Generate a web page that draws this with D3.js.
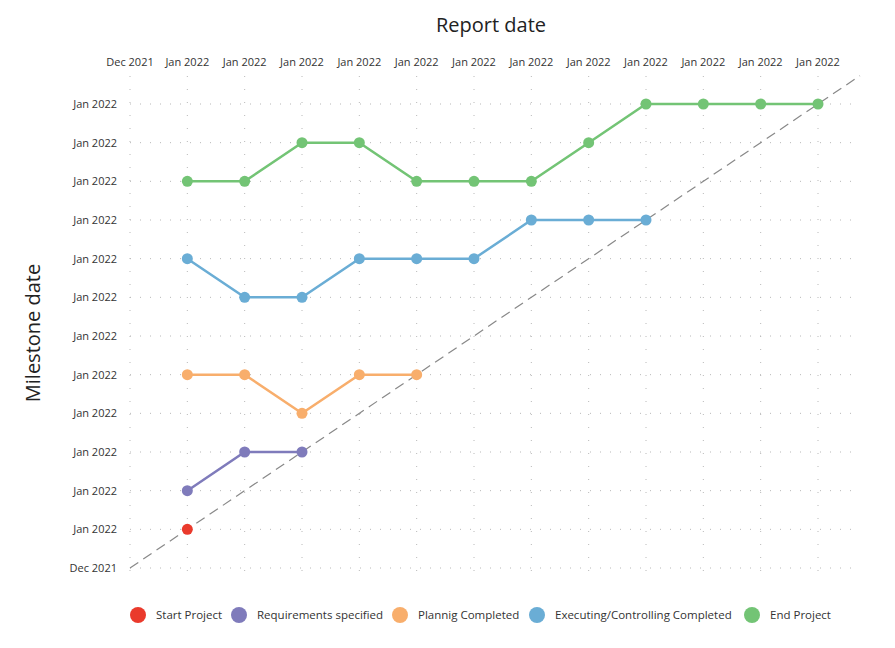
<!DOCTYPE html>
<html>
<head>
<meta charset="utf-8">
<script src="https://cdn.jsdelivr.net/npm/d3@7"></script>
<style>
  body { margin: 0; background: #fff; }
  svg { font-family: 'Open Sans', 'Noto Sans', sans-serif; }
</style>
</head>
<body>
<div id="chart"></div>
<script>
// report dates (x) and milestone dates (y)
var reportDates = ['2021-12-31', '2022-01-01', '2022-01-02', '2022-01-03', '2022-01-04', '2022-01-05',
  '2022-01-06', '2022-01-07', '2022-01-08', '2022-01-09', '2022-01-10', '2022-01-11', '2022-01-12'];

var milestoneNames = ['Start Project', 'Requirements specified', 'Plannig Completed',
  'Executing/Controlling Completed', 'End Project'];
var milestoneColors = ['#ea3a2c', '#7f7bbb', '#f8ae6c', '#6aadd5', '#73c475'];

// milestone date forecast per report date, one array per milestone
var startProject = [['2022-01-01', '2022-01-01']];
var requirements = [['2022-01-01', '2022-01-02'], ['2022-01-02', '2022-01-03'], ['2022-01-03', '2022-01-03']];
var planning = [['2022-01-01', '2022-01-05'], ['2022-01-02', '2022-01-05'], ['2022-01-03', '2022-01-04'],
  ['2022-01-04', '2022-01-05'], ['2022-01-05', '2022-01-05']];
var executing = [['2022-01-01', '2022-01-08'], ['2022-01-02', '2022-01-07'], ['2022-01-03', '2022-01-07'],
  ['2022-01-04', '2022-01-08'], ['2022-01-05', '2022-01-08'], ['2022-01-06', '2022-01-08'],
  ['2022-01-07', '2022-01-09'], ['2022-01-08', '2022-01-09'], ['2022-01-09', '2022-01-09']];
var endProject = [['2022-01-01', '2022-01-10'], ['2022-01-02', '2022-01-10'], ['2022-01-03', '2022-01-11'],
  ['2022-01-04', '2022-01-11'], ['2022-01-05', '2022-01-10'], ['2022-01-06', '2022-01-10'],
  ['2022-01-07', '2022-01-10'], ['2022-01-08', '2022-01-11'], ['2022-01-09', '2022-01-12'],
  ['2022-01-10', '2022-01-12'], ['2022-01-11', '2022-01-12'], ['2022-01-12', '2022-01-12']];

var seriesValues = [startProject, requirements, planning, executing, endProject];

var attrs = {
  svgWidth: 895,
  svgHeight: 648,
  left: 130,
  right: 818,
  top: 104,
  bottom: 568,
  extend: 42
};

var parse = d3.timeParse('%Y-%m-%d');
var fmt = d3.timeFormat('%b %Y');
var dates = reportDates.map(parse);

var x = d3.scaleTime()
  .domain(d3.extent(dates))
  .range([attrs.left, attrs.right]);

var y = d3.scaleTime()
  .domain(d3.extent(dates))
  .range([attrs.bottom, attrs.top]);

var svg = d3.select('#chart')
  .append('svg')
  .attr('width', attrs.svgWidth)
  .attr('height', attrs.svgHeight);

var xMax = attrs.right + attrs.extend;
var yMin = 76;

// grid
svg.append('g')
  .selectAll('line')
  .data(dates)
  .enter()
  .append('line')
  .attr('x1', d => x(d)).attr('x2', d => x(d))
  .attr('y1', yMin).attr('y2', attrs.bottom + 6)
  .attr('stroke', '#b8b8b8')
  .attr('stroke-width', 1)
  .attr('stroke-dasharray', '1,12');

svg.append('g')
  .selectAll('line')
  .data(dates)
  .enter()
  .append('line')
  .attr('y1', d => y(d)).attr('y2', d => y(d))
  .attr('x1', attrs.left).attr('x2', xMax)
  .attr('stroke', '#b8b8b8')
  .attr('stroke-width', 1)
  .attr('stroke-dasharray', '1,9');

// diagonal
var ratio = (attrs.bottom - attrs.top) / (attrs.right - attrs.left);
svg.append('line')
  .attr('x1', x(dates[0])).attr('y1', y(dates[0]))
  .attr('x2', xMax).attr('y2', y(dates[0]) - (xMax - attrs.left) * ratio)
  .attr('stroke', '#888')
  .attr('stroke-width', 1.2)
  .attr('stroke-dasharray', '10,6');

// axis labels
svg.append('g')
  .selectAll('text')
  .data(dates)
  .enter()
  .append('text')
  .attr('x', d => x(d))
  .attr('y', 66)
  .attr('text-anchor', 'middle')
  .attr('font-size', 11)
  .attr('fill', '#333')
  .text(d => fmt(d));

svg.append('g')
  .selectAll('text')
  .data(dates)
  .enter()
  .append('text')
  .attr('x', 117)
  .attr('y', d => y(d) + 4)
  .attr('text-anchor', 'end')
  .attr('font-size', 11)
  .attr('fill', '#333')
  .text(d => fmt(d));

svg.append('text')
  .attr('x', 491).attr('y', 32)
  .attr('text-anchor', 'middle')
  .attr('font-size', 20)
  .attr('fill', '#222')
  .text('Report date');

svg.append('text')
  .attr('transform', 'translate(40,' + 333 + ') rotate(-90)')
  .attr('text-anchor', 'middle')
  .attr('font-size', 20)
  .attr('fill', '#222')
  .text('Milestone date');

// series
var line = d3.line()
  .x(d => x(parse(d[0])))
  .y(d => y(parse(d[1])));

var groups = svg.append('g')
  .selectAll('g')
  .data(seriesValues)
  .enter()
  .append('g');

groups.append('path')
  .attr('d', d => line(d))
  .attr('fill', 'none')
  .attr('stroke', (d, i) => milestoneColors[i])
  .attr('stroke-width', 2.5);

groups.selectAll('circle')
  .data((d, i) => d.map(p => ({ p: p, c: milestoneColors[i] })))
  .enter()
  .append('circle')
  .attr('cx', d => x(parse(d.p[0])))
  .attr('cy', d => y(parse(d.p[1])))
  .attr('r', 5.5)
  .attr('fill', d => d.c);

// legend
var legendX = [138, 239, 400, 537, 752];
var legend = svg.append('g')
  .selectAll('g')
  .data(milestoneNames)
  .enter()
  .append('g')
  .attr('transform', (d, i) => 'translate(' + legendX[i] + ',615)');

legend.append('circle')
  .attr('r', 8)
  .attr('fill', (d, i) => milestoneColors[i]);

legend.append('text')
  .attr('x', 18)
  .attr('y', 4)
  .attr('font-size', 11.5)
  .attr('fill', '#333')
  .text(d => d);
</script>
</body>
</html>
